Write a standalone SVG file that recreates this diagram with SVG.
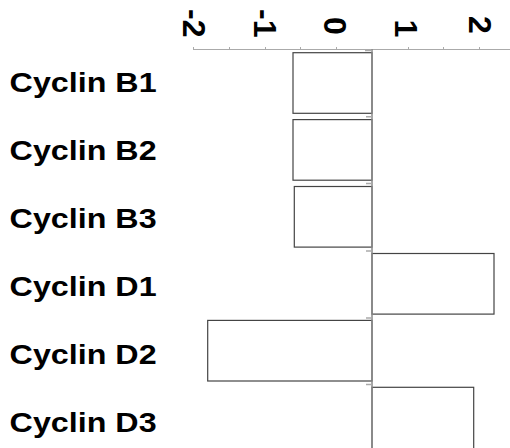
<svg xmlns="http://www.w3.org/2000/svg" width="510" height="448" viewBox="0 0 510 448">
<style>
.lbl{font-family:"Liberation Sans",Arial,sans-serif;font-weight:bold;font-size:27.5px;fill:#000}
.ax{font-family:"Liberation Sans",Arial,sans-serif;font-weight:bold;font-size:32px;fill:#000}
.bar{fill:#fff;stroke:#444;stroke-width:1.2}
.tick{stroke:#aaa;stroke-width:1}
.dash{stroke:#aaa;stroke-width:1.5}
</style>
<rect width="510" height="448" fill="#fff"/>
<g id="axis">
<line class="tick" x1="193" y1="49.5" x2="510" y2="49.5"/>
<path class="tick" d="M193.5 47v3M229.5 47v3M265.5 47v3M300.5 47v3M336.5 47v3M408.5 47v3M443.5 47v3M479.5 47v3"/>
<text class="ax" transform="translate(183,9) rotate(90)">-2</text>
<text class="ax" transform="translate(254,9) rotate(90)">-1</text>
<text class="ax" transform="translate(324,17) rotate(90)">0</text>
<text class="ax" transform="translate(395,19.5) rotate(90)">1</text>
<text class="ax" transform="translate(469,16) rotate(90)">2</text>
</g>
<g id="bars">
<g id="cyclin-b1"><rect class="bar" x="293" y="52.7" width="79" height="60.6"/><text class="lbl" x="9.6" y="92" textLength="147" lengthAdjust="spacingAndGlyphs">Cyclin B1</text></g>
<g id="cyclin-b2"><rect class="bar" x="293" y="119.6" width="79" height="60.6"/><text class="lbl" x="9.6" y="160" textLength="147" lengthAdjust="spacingAndGlyphs">Cyclin B2</text></g>
<g id="cyclin-b3"><rect class="bar" x="294.3" y="186.5" width="77.7" height="60.6"/><text class="lbl" x="9.6" y="228" textLength="147" lengthAdjust="spacingAndGlyphs">Cyclin B3</text></g>
<g id="cyclin-d1"><rect class="bar" x="372" y="253.5" width="122" height="60.6"/><text class="lbl" x="9.6" y="296" textLength="147" lengthAdjust="spacingAndGlyphs">Cyclin D1</text></g>
<g id="cyclin-d2"><rect class="bar" x="207.7" y="320.4" width="164.3" height="60.6"/><text class="lbl" x="9.6" y="364" textLength="147" lengthAdjust="spacingAndGlyphs">Cyclin D2</text></g>
<g id="cyclin-d3"><rect class="bar" x="372" y="387.3" width="101.7" height="70"/><text class="lbl" x="9.6" y="432" textLength="147" lengthAdjust="spacingAndGlyphs">Cyclin D3</text></g>
</g>
<g id="connectors">
<line x1="372" y1="49" x2="372" y2="448" stroke="#888" stroke-width="1.5"/>
<path class="dash" d="M365 50.5h7M366 116.8h6M366 183.5h6M366 251h6M366 318h6M366 384.5h6"/>
</g>
</svg>
